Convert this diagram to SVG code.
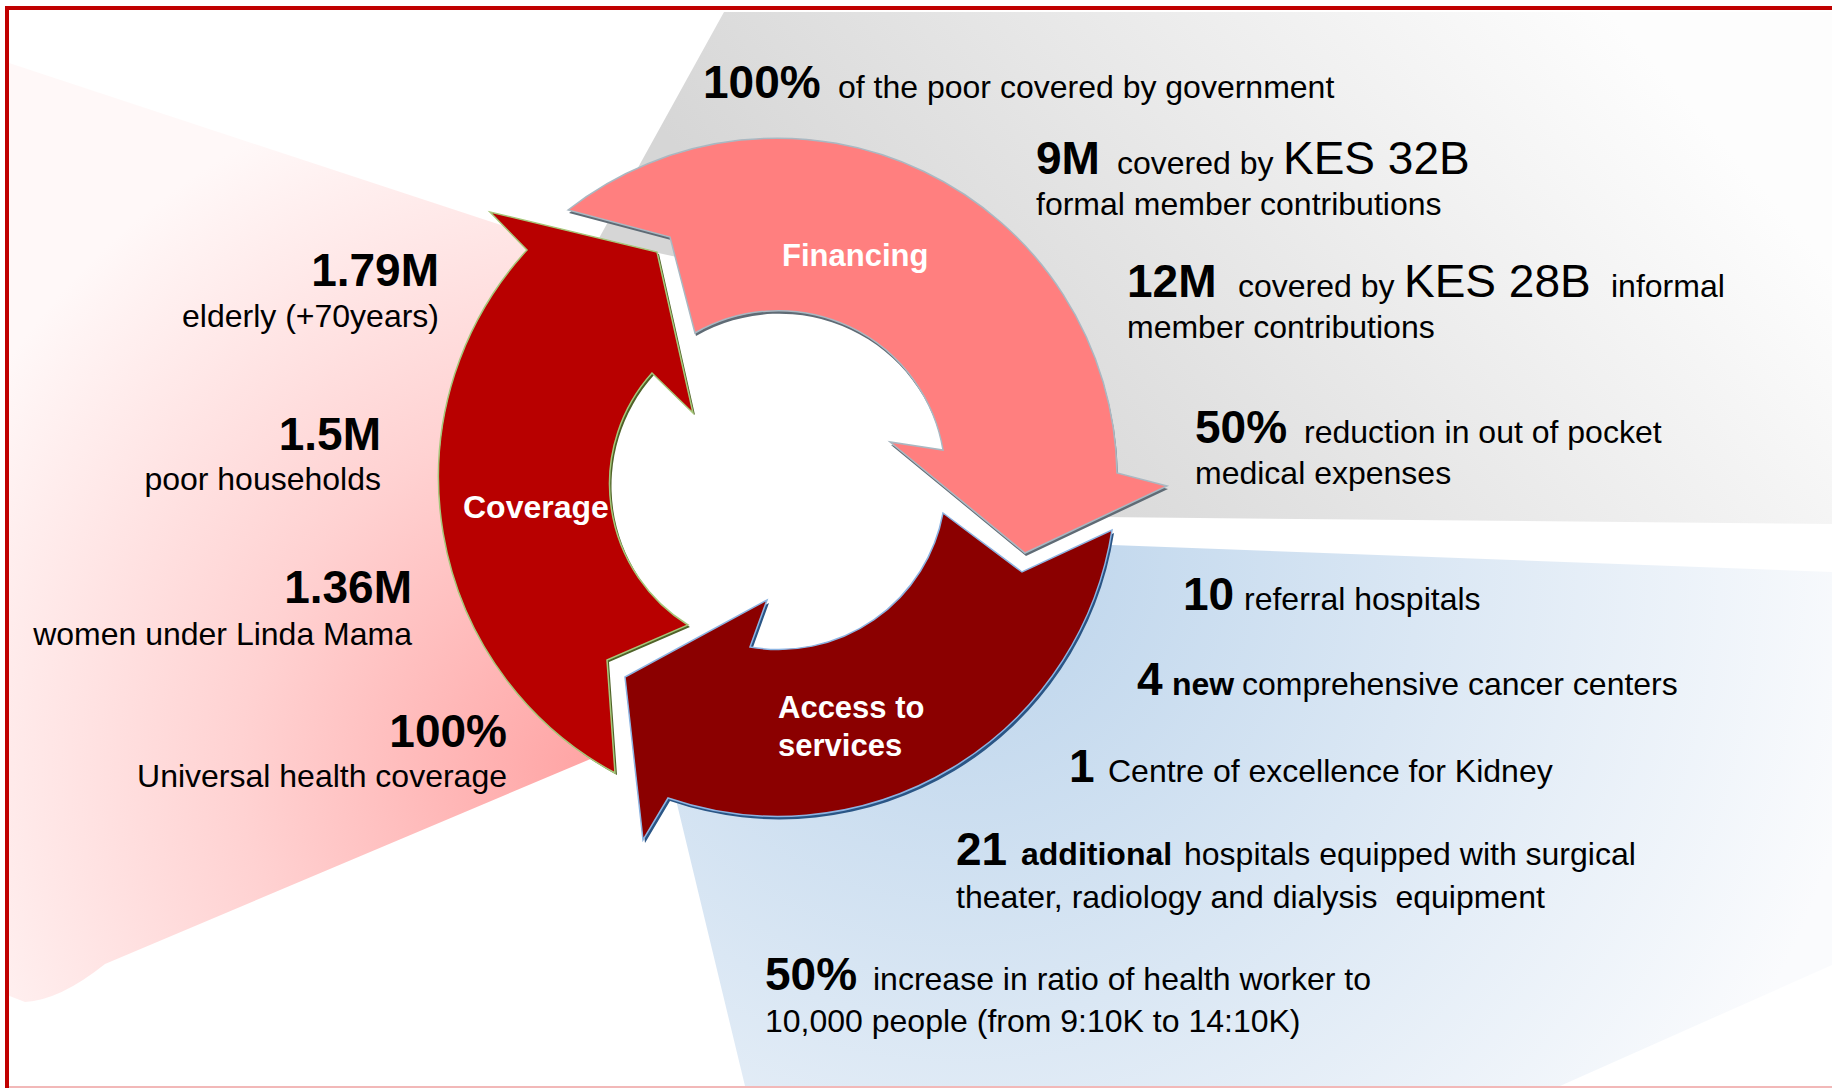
<svg xmlns="http://www.w3.org/2000/svg" xmlns:xlink="http://www.w3.org/1999/xlink" width="1832" height="1088" viewBox="0 0 1832 1088">
<style>
text{font-family:"Liberation Sans",Arial,Helvetica,sans-serif;fill:#000}
.num{font-size:46px;font-weight:bold}
.txt{font-size:32px}
.bt{font-size:32px;font-weight:bold}
.kes{font-size:46px}
.lbl{font-size:31px;font-weight:bold;fill:#fff}
.end{text-anchor:end}
</style>
<defs>
<linearGradient id="gGray" gradientUnits="userSpaceOnUse" x1="1000" y1="520" x2="1600" y2="0">
<stop offset="0" stop-color="#D6D6D6"/><stop offset="1" stop-color="#FDFDFD"/>
</linearGradient>
<radialGradient id="gPink" gradientUnits="userSpaceOnUse" cx="600" cy="770" r="720">
<stop offset="0" stop-color="#FFA3A3"/><stop offset="0.5" stop-color="#FFD2D2"/><stop offset="1" stop-color="#FFF8F8"/>
</radialGradient>
<radialGradient id="gBlue" gradientUnits="userSpaceOnUse" cx="960" cy="560" r="920">
<stop offset="0" stop-color="#BAD3EB"/><stop offset="1" stop-color="#FAFBFD"/>
</radialGradient>
<path id="pFin" d="M568,210 A340,340 0 0 1 1117,473 L1167,486 L1025,553 L890,442 L943,450 A167,167 0 0 0 695,333 L670,237 Z"/>
<path id="pCov" d="M615,773 A336,336 0 0 1 527,250 L490,212 L657,252 L693,413 L652,373 A166,166 0 0 0 688,625 L607,660 Z"/>
<path id="pAcc" d="M1112,530 A338,338 0 0 1 668,798 L643,840 L625,677 L767,600 L750,647 A167,167 0 0 0 943,513 L1022,572 Z"/>
</defs>
<rect x="0" y="0" width="1832" height="1088" fill="#fff"/>
<g id="backgrounds">
<polygon points="724,12 1832,12 1832,524 1100,517 1060,480 994,357 902,265 777,232 700,262 598,240" fill="url(#gGray)"/>
<path d="M6,62 L540,238 L480,480 L560,700 L600,755 L105,964 Q60,1000 25,1002 L7,995 Z" fill="url(#gPink)"/>
<polygon points="1112,545 1832,572 1832,965 1560,1086 745,1086 670,775 700,700 900,700 1080,560" fill="url(#gBlue)"/>
</g>
<g id="frame">
<path d="M1832,8 H7 V1088" fill="none" stroke="#C00000" stroke-width="4"/>
<line x1="9" y1="1087" x2="1832" y2="1087" stroke="#F2B8B8" stroke-width="2"/>
</g>
<g id="connectors">
</g>
<g id="financing">
<use xlink:href="#pFin" transform="translate(1,3)" fill="#5F6B75"/>
<use xlink:href="#pFin" fill="#FF7F7F" stroke="#A9B8C2" stroke-width="1.5"/>
<text class="lbl" x="782" y="266">Financing</text>
</g>
<g id="coverage">
<use xlink:href="#pCov" transform="translate(2,2)" fill="#4F6228"/>
<use xlink:href="#pCov" fill="#B80000" stroke="#A6C77A" stroke-width="1.5"/>
<text class="lbl" x="463" y="518" style="font-size:32px">Coverage</text>
</g>
<g id="access">
<use xlink:href="#pAcc" transform="translate(2,3)" fill="#2A5585"/>
<use xlink:href="#pAcc" fill="#8B0000" stroke="#8DB4E2" stroke-width="1.5"/>
<text class="lbl" x="778" y="718">Access to</text>
<text class="lbl" x="778" y="756">services</text>
</g>
<g id="coverage-stats">
<text class="num end" x="439" y="286">1.79M</text>
<text class="txt end" x="439" y="327">elderly (+70years)</text>
<text class="num end" x="381" y="450">1.5M</text>
<text class="txt end" x="381" y="490">poor households</text>
<text class="num end" x="412" y="603">1.36M</text>
<text class="txt end" x="412" y="645">women under Linda Mama</text>
<text class="num end" x="507" y="747">100%</text>
<text class="txt end" x="507" y="787">Universal health coverage</text>
</g>
<g id="financing-stats">
<text x="703" y="98"><tspan class="num">100%</tspan><tspan class="txt" x="838">of the poor covered by government</tspan></text>
<text x="1036" y="174"><tspan class="num">9M</tspan><tspan class="txt" x="1117">covered by</tspan><tspan class="kes" x="1283">KES 32B</tspan></text>
<text class="txt" x="1036" y="215">formal member contributions</text>
<text x="1127" y="297"><tspan class="num">12M</tspan><tspan class="txt" x="1238">covered by</tspan><tspan class="kes" x="1404">KES 28B</tspan><tspan class="txt" x="1611">informal</tspan></text>
<text class="txt" x="1127" y="338">member contributions</text>
<text x="1195" y="443"><tspan class="num">50%</tspan><tspan class="txt" x="1304">reduction in out of pocket</tspan></text>
<text class="txt" x="1195" y="484">medical expenses</text>
</g>
<g id="access-stats">
<text x="1183" y="610"><tspan class="num">10</tspan><tspan class="txt" x="1244">referral hospitals</tspan></text>
<text x="1137" y="695"><tspan class="num">4</tspan><tspan class="bt" x="1172">new</tspan><tspan class="txt" x="1242">comprehensive cancer centers</tspan></text>
<text x="1069" y="782"><tspan class="num">1</tspan><tspan class="txt" x="1108">Centre of excellence for Kidney</tspan></text>
<text x="956" y="865"><tspan class="num">21</tspan><tspan class="bt" x="1021">additional</tspan><tspan class="txt" x="1184">hospitals equipped with surgical</tspan></text>
<text class="txt" x="956" y="908" style="white-space:pre">theater, radiology and dialysis  equipment</text>
<text x="765" y="990"><tspan class="num">50%</tspan><tspan class="txt" x="873">increase in ratio of health worker to</tspan></text>
<text class="txt" x="765" y="1032">10,000 people (from 9:10K to 14:10K)</text>
</g>
</svg>
